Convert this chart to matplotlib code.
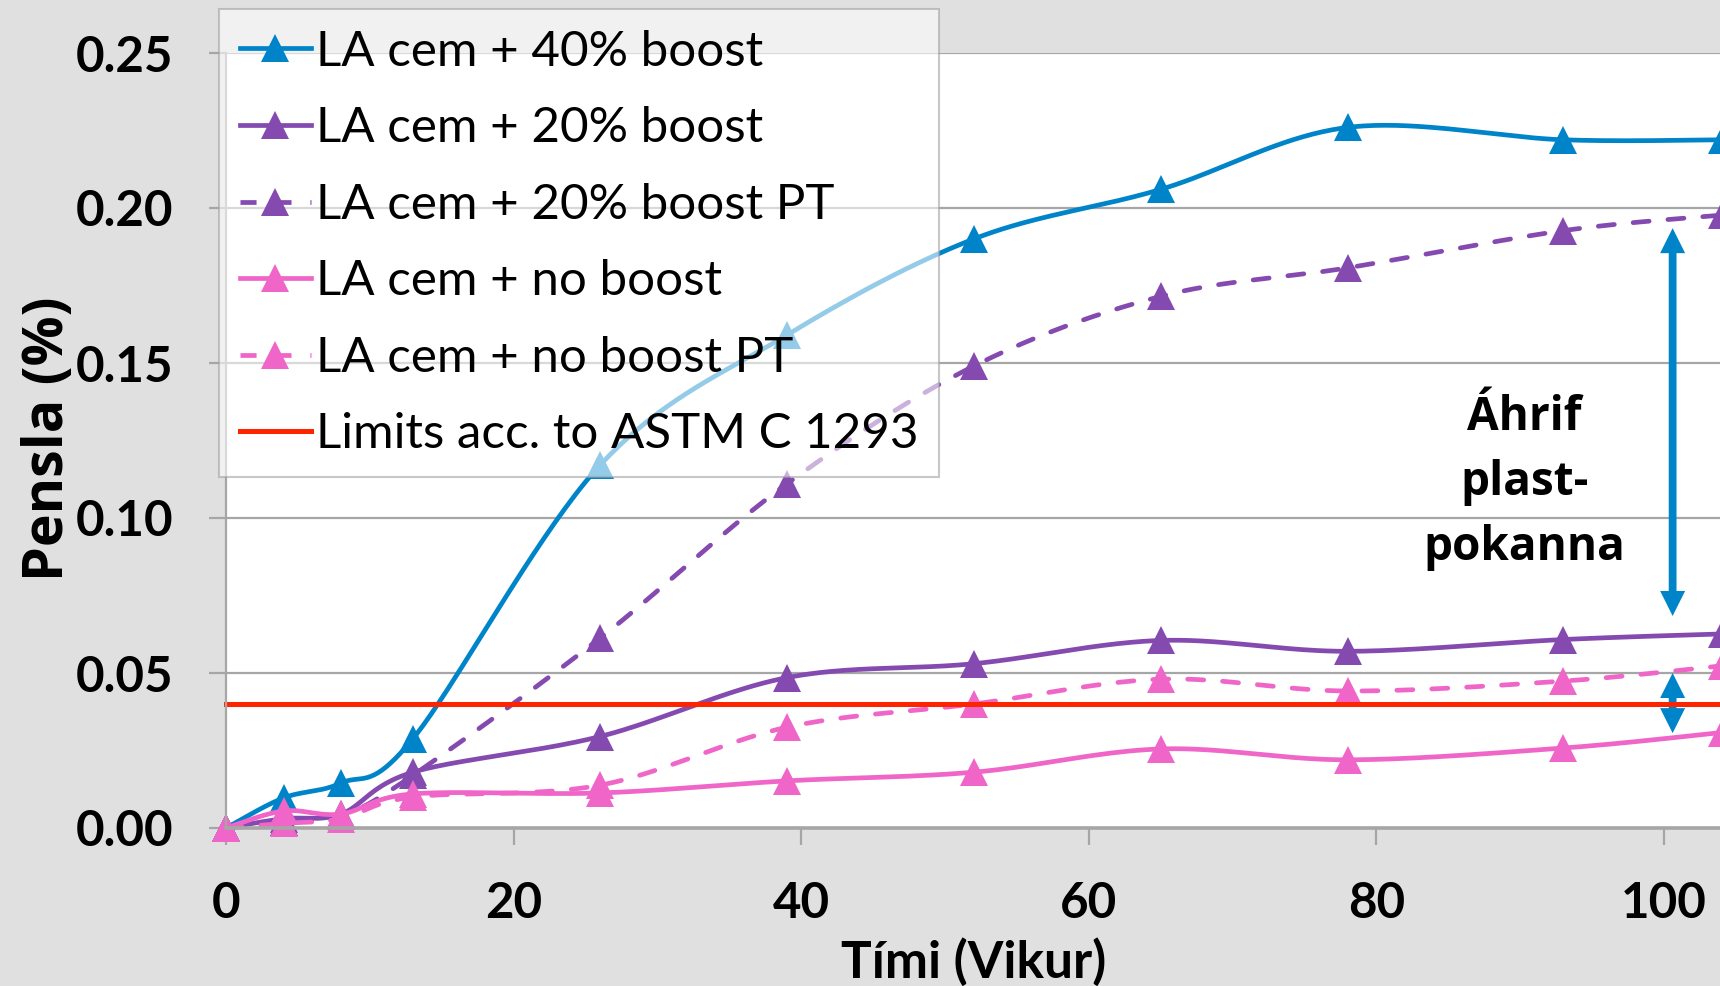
import numpy as np
import matplotlib
matplotlib.use('Agg')
import matplotlib.pyplot as plt
from matplotlib import font_manager as fm
from matplotlib.lines import Line2D
from matplotlib.patches import FancyArrowPatch

# data
weeks = [0, 4, 8, 13, 26, 39, 52, 65, 78, 93, 104]
boost40 = [0, 0.0097, 0.0145, 0.0288, 0.117, 0.159, 0.190, 0.206, 0.226, 0.222, 0.222]
boost20 = [0, 0.003, 0.0045, 0.018, 0.0295, 0.0485, 0.053, 0.0605, 0.057, 0.0608, 0.0626]
boost20_pt = [0, 0.002, 0.004, 0.017, 0.0612, 0.111, 0.149, 0.1715, 0.1807, 0.1927, 0.1977]
noboost = [0, 0.0055, 0.0045, 0.011, 0.0113, 0.0152, 0.018, 0.0255, 0.022, 0.0258, 0.0308]
noboost_pt = [0, 0.0015, 0.003, 0.010, 0.0138, 0.0325, 0.040, 0.048, 0.0442, 0.0474, 0.0523]
limit = 0.04
labels = ['LA cem + 40% boost', 'LA cem + 20% boost', 'LA cem + 20% boost PT',
          'LA cem + no boost', 'LA cem + no boost PT', 'Limits acc. to ASTM C 1293']
arrow_x = 100.6
arrow_big = (0.1935, 0.0684)
arrow_small = (0.050, 0.0306)
note = 'Áhrif\nplast-\npokanna'

blue = '#0084c9'
purple = '#854ab0'
pink = '#f066c8'
red = '#ff2400'

names = {f.name for f in fm.fontManager.ttflist}
narrow = 'Lato' if 'Lato' in names else 'Liberation Sans'
wide = 'Open Sans' if 'Open Sans' in names else 'DejaVu Sans'


def smooth(xs, ys, n=40):
    # Catmull-Rom style bezier, like Excel's smoothed lines
    p = np.column_stack([xs, ys]).astype(float)
    out = [p[:1]]
    t = np.linspace(0, 1, n)[1:, None]
    for i in range(len(p) - 1):
        p0 = p[i - 1] if i > 0 else p[i]
        p1, p2 = p[i], p[i + 1]
        p3 = p[i + 2] if i + 2 < len(p) else p[i + 1]
        c1 = p1 + (p2 - p0) / 6
        c2 = p2 - (p3 - p1) / 6
        seg = ((1 - t) ** 3) * p1 + 3 * ((1 - t) ** 2) * t * c1 + 3 * (1 - t) * t ** 2 * c2 + t ** 3 * p2
        out.append(seg)
    pts = np.vstack(out)
    return pts[:, 0], pts[:, 1]


fig = plt.figure(figsize=(17.2, 9.86), dpi=100)
fig.patch.set_facecolor('#e0e0e0')
ax = fig.add_axes([226 / 1720, 1 - 828 / 986, 1 - 226 / 1720, (828 - 53) / 986])
ax.set_facecolor('white')

lw = 3.4
ms = 20
dash = (0, (3.4, 4.0))
series = [
    (boost40, blue, '-'),
    (boost20, purple, '-'),
    (boost20_pt, purple, dash),
    (noboost, pink, '-'),
    (noboost_pt, pink, dash),
]
for ys, col, ls in series:
    sx, sy = smooth(weeks, ys)
    ax.plot(sx, sy, color=col, lw=lw, ls=ls, dash_capstyle='round', clip_on=False)
    ax.plot(weeks, ys, ls='none', marker='^', ms=ms, color=col, mew=0, clip_on=False)

ax.plot([weeks[0], weeks[-1]], [limit, limit], color=red, lw=3.6, clip_on=False)

# double arrows: filled heads + separate shaft
for y0, y1 in (arrow_big, arrow_small):
    shaft = FancyArrowPatch((arrow_x, y0), (arrow_x, y1), arrowstyle='-', color=blue, lw=5.6,
                            shrinkA=11, shrinkB=11)
    heads = FancyArrowPatch((arrow_x, y0), (arrow_x, y1), arrowstyle='<|-|>,head_length=0.45,head_width=0.225',
                            mutation_scale=40, color=blue, lw=0, shrinkA=0, shrinkB=0)
    ax.add_patch(shaft)
    ax.add_patch(heads)

ax.text(90.3, 0.1115, note, ha='center', va='center', fontsize=33, fontweight='bold',
        family=wide, linespacing=1.5)

ax.set_xlim(0, (1720 - 226) / 14.38)
ax.set_ylim(0, 0.25)
ax.set_xticks([0, 20, 40, 60, 80, 100])
ax.set_yticks([0, 0.05, 0.10, 0.15, 0.20, 0.25])
ax.set_yticklabels(['0.00', '0.05', '0.10', '0.15', '0.20', '0.25'])
ax.grid(axis='y', color='#a6a6a6', lw=1.6)
ax.set_axisbelow(True)
for s in ('top', 'right'):
    ax.spines[s].set_visible(False)
ax.spines['left'].set_color('#a6a6a6')
ax.spines['left'].set_linewidth(1.6)
ax.spines['bottom'].set_color('#a6a6a6')
ax.spines['bottom'].set_linewidth(2.6)
ax.tick_params(axis='both', direction='out', length=12, width=1.6, color='#a6a6a6')
ax.tick_params(axis='y', pad=26)
ax.tick_params(axis='x', pad=26)
for lab in ax.get_xticklabels() + ax.get_yticklabels():
    lab.set_fontfamily(narrow)
    lab.set_fontweight('bold')
    lab.set_fontsize(35.5)

fig.text(974 / 1720, 1 - 962 / 986, 'Tími (Vikur)', ha='center', va='center',
         fontsize=37, fontweight='bold', family=narrow)
fig.text(49 / 1720, 1 - 439 / 986, 'Pensla (%)', ha='center', va='center', rotation=90,
         fontsize=40, fontweight='bold', family=wide)

handles = [
    Line2D([], [], color=blue, lw=lw, marker='^', ms=ms, mew=0),
    Line2D([], [], color=purple, lw=lw, marker='^', ms=ms, mew=0),
    Line2D([], [], color=purple, lw=lw, ls=dash, marker='^', ms=ms, mew=0),
    Line2D([], [], color=pink, lw=lw, marker='^', ms=ms, mew=0),
    Line2D([], [], color=pink, lw=lw, ls=dash, marker='^', ms=ms, mew=0),
    Line2D([], [], color=red, lw=3.6),
]
leg = ax.legend(handles, labels, loc='upper left', bbox_to_anchor=(219 / 1720, 1 - 9 / 986),
                bbox_transform=fig.transFigure, borderaxespad=0, fancybox=False,
                framealpha=0.58, edgecolor='#a0a0a0', prop={'family': narrow, 'size': 35.5},
                handlelength=1.45, handletextpad=0.1, labelspacing=0.66, borderpad=0.42)
leg.get_frame().set_linewidth(1.5)
leg.set_zorder(10)

fig.savefig('out.png', dpi=100, facecolor=fig.get_facecolor())
